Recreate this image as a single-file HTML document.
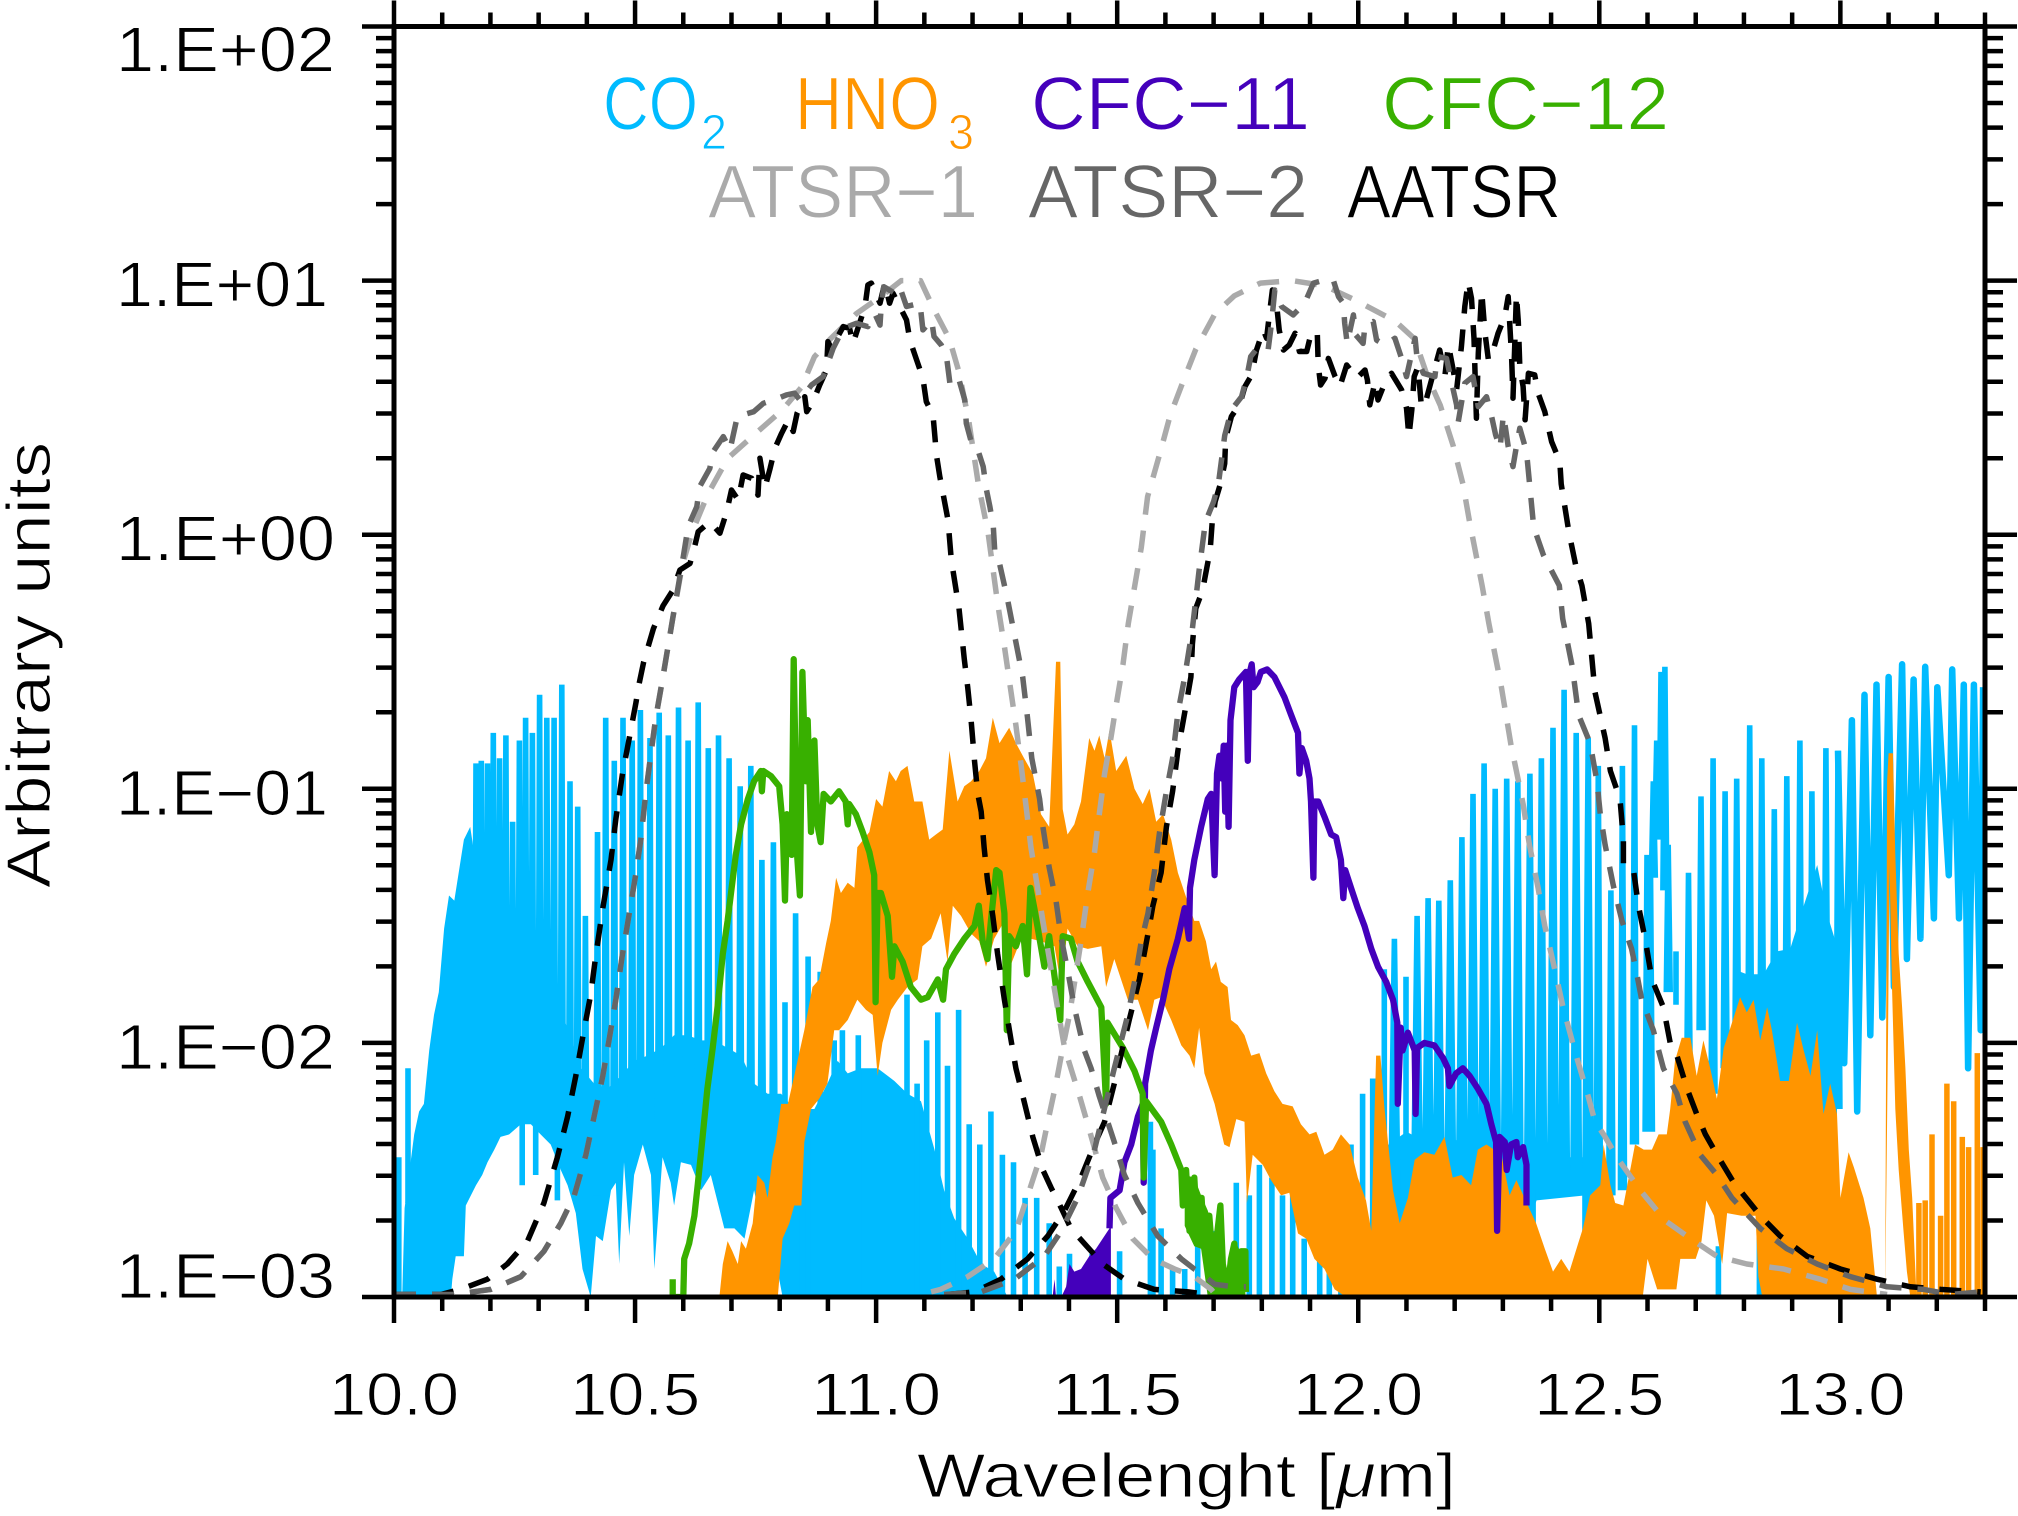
<!DOCTYPE html>
<html lang="en">
<head>
<meta charset="utf-8">
<title>Spectra and ATSR filter responses</title>
<style>
html,body{margin:0;padding:0;background:#fff;}
svg{display:block;}
text{font-family:"Liberation Sans",sans-serif;stroke:#fff;stroke-width:1;}
</style>
</head>
<body>
<svg id="chart" xmlns="http://www.w3.org/2000/svg" width="2018" height="1516" viewBox="0 0 2018 1516">
  <rect x="0" y="0" width="2018" height="1516" fill="#fff"/>
  <defs><clipPath id="plot-clip"><rect x="394" y="26.5" width="1591" height="1270.5"/></clipPath></defs>
  <g id="series" clip-path="url(#plot-clip)"></g>
  <g id="axes"></g>
  <g font-size="75">
    <text x="603" y="129.5" fill="#00BBFF" textLength="95" lengthAdjust="spacingAndGlyphs">CO</text>
    <text x="701" y="149" fill="#00BBFF" font-size="49" textLength="26" lengthAdjust="spacingAndGlyphs">2</text>
    <text x="795" y="129.5" fill="#FF9500" textLength="145" lengthAdjust="spacingAndGlyphs">HNO</text>
    <text x="948" y="149" fill="#FF9500" font-size="49" textLength="26" lengthAdjust="spacingAndGlyphs">3</text>
    <text x="1031" y="129.5" fill="#4400BB" textLength="279" lengthAdjust="spacingAndGlyphs">CFC−11</text>
    <text x="1382" y="129.5" fill="#38B000" textLength="287" lengthAdjust="spacingAndGlyphs">CFC−12</text>
    <text x="708" y="217.5" fill="#AAAAAA" textLength="270" lengthAdjust="spacingAndGlyphs">ATSR−1</text>
    <text x="1028" y="217.5" fill="#666666" textLength="280" lengthAdjust="spacingAndGlyphs">ATSR−2</text>
    <text x="1347" y="217.5" fill="#000000" textLength="214" lengthAdjust="spacingAndGlyphs">AATSR</text>
  </g>
  <text x="917" y="1497" font-size="62" fill="#000" textLength="539" lengthAdjust="spacingAndGlyphs">Wavelenght [<tspan font-style="italic">μ</tspan>m]</text>
  <text transform="translate(50,888) rotate(-90)" x="0" y="0" font-size="62" fill="#000" textLength="446" lengthAdjust="spacingAndGlyphs">Arbitrary units</text>
</svg>
<script>
/* Axis labels */
const xMajorTicks = [10, 10.5, 11, 11.5, 12, 12.5, 13];
const xTickLabels = ['10.0', '10.5', '11.0', '11.5', '12.0', '12.5', '13.0'];
const yDecadeExponents = [2, 1, 0, -1, -2, -3];
const yTickLabels = ['1.E+02', '1.E+01', '1.E+00', '1.E\u221201', '1.E\u221202', '1.E\u221203'];

/* All series values below are log10(arbitrary units); x is wavelength in um */

/* CO2 individual lines */
const co2LineWavelengths = [10.010,10.029,10.170,10.181,10.194,10.206,10.219,10.232,10.246,10.260,10.266,10.273,10.287,10.294,10.302,10.317,10.332,10.339,10.348,10.365,10.381,10.397,10.422,10.439,10.457,10.475,10.494,10.511,10.531,10.550,10.569,10.590,10.610,10.631,10.652,10.673,10.695,10.718,10.740,10.763,10.787,10.811,
10.833,10.859,10.884,10.913,10.930,10.963,11.064,11.085,11.105,11.128,11.148,11.171,11.193,11.215,11.238,11.262,11.285,11.309,11.333,11.359,11.380,11.401,11.448,11.505,11.569,11.574,11.591,11.615,11.640,
11.667,11.705,11.747,11.774,11.795,11.821,11.843,11.864,11.888,11.920,11.940,11.964,11.985,12.009,12.030,12.054,12.075,12.099,12.122,12.145,12.167,12.191,12.215,12.238,12.261,12.284,12.308,12.331,12.356,12.380,12.404,12.427,12.452,12.477,
12.498,12.524,12.548,12.573,12.599,12.606,12.612,12.619,12.628,12.636,12.643,12.659,12.685,12.711,12.736,12.747,12.761,12.785,12.812,12.832,12.837,12.863,12.889,12.916,12.941,12.970,12.995];
const co2LineTops = [-2.45,-2.10,-0.90,-0.89,-0.90,-0.78,-0.88,-0.79,-1.13,-0.81,-2.10,-0.72,-0.78,-2.10,-0.63,-0.72,-0.72,-2.10,-0.59,-0.97,-1.07,-1.50,-1.17,-0.72,-0.89,-0.72,-0.81,-0.69,-0.80,-0.70,-0.79,-0.68,-0.81,-0.66,-0.84,-0.79,-0.88,-0.99,-0.91,-1.28,-1.21,-1.84,
-1.49,-1.66,-1.72,-1.99,-1.95,-1.97,-1.81,-2.16,-1.99,-1.88,-2.09,-1.87,-2.32,-2.40,-2.27,-2.44,-2.47,-2.61,-2.61,-2.71,-2.88,-2.83,-2.83,-2.82,-2.31,-2.42,-2.73,-2.89,-2.89,
-2.78,-2.74,-2.55,-2.60,-2.48,-2.53,-2.60,-2.60,-2.77,-2.83,-2.90,-2.50,-2.40,-2.20,-2.14,-1.71,-1.59,-1.74,-1.50,-1.43,-1.44,-1.36,-1.19,-1.02,-0.90,-1.00,-0.96,-0.97,-0.94,-0.88,-0.76,-0.61,-0.78,-0.80,
-0.91,-1.40,-0.91,-0.75,-1.26,-1.26,-0.97,-0.81,-0.54,-0.52,-1.22,-1.64,-1.33,-1.03,-0.88,-2.80,-1.01,-0.96,-0.75,-2.68,-0.88,-1.08,-0.95,-0.81,-1.01,-0.84,-0.85];
const co2LineBottoms = [-3,-2.63,-2.2,-2.2,-2.2,-2.2,-2.2,-2.2,-2.2,-2.2,-2.56,-2.2,-2.2,-2.52,-2.2,-2.2,-2.2,-2.62,-2.2,-2.4,-2.5,-2.8,-2.6,-2.3,-2.3,-2.3,-2.3,-2.3,-2.3,-2.3,-2.3,-2.3,-2.3,-2.3,-2.3,-2.3,-2.3,-2.3,-2.3,-2.3,-2.3,-2.3,
-3,-3,-3,-3,-3,-3,-3,-3,-3,-3,-3,-3,-3,-3,-3,-3,-3,-3,-3,-3,-3,-3,-3,-3,-3,-3,-3,-3,-3,
-3,-3,-3,-3,-3,-3,-3,-3,-3,-3,-3,-3,-3,-3,-3,-3,-3,-3,-3,-3,-3,-3,-3,-3,-3,-3,-3,-3,-3,-2.58,-2.58,-2.58,-2.58,-3,
-2.60,-2.60,-2.58,-2.40,-2.35,-2.35,-1.35,-1.20,-1.20,-1.40,-1.80,-1.85,-2.26,-1.95,-2.20,-3,-2.10,-2.10,-2.10,-3,-2.10,-2.10,-2.10,-2.10,-2.10,-2.10,-2.26];

/* CO2 dense band, upper and lower envelopes */
const co2BandUpperWavelengths = [10.017,10.022,10.042,10.052,10.062,10.073,10.083,10.093,10.104,10.114,10.125,10.135,10.145,10.158,10.170,10.194,10.221,10.249,10.277,10.304,10.332,10.360,10.388,10.415,10.443,10.471,10.498,10.526,10.554,10.581,10.609,10.637,10.664,10.692,10.720,10.747,10.775,10.803,10.830,10.872,10.899,10.920,10.941,10.968,11.003,11.038,11.065,11.093,11.121,11.141,11.162,11.190,11.218,11.245,11.273];
const co2BandUpper = [-3,-2.65,-2.36,-2.27,-2.24,-2.03,-1.89,-1.80,-1.55,-1.42,-1.44,-1.32,-1.20,-1.15,-1.30,-1.39,-1.54,-1.62,-1.65,-1.71,-1.83,-1.94,-2.10,-2.16,-2.18,-2.13,-2.07,-2.05,-2.02,-1.97,-1.97,-1.99,-1.99,-2.02,-2.05,-2.16,-2.20,-2.20,-2.26,-2.26,-2.16,-2.07,-2.12,-2.10,-2.10,-2.15,-2.20,-2.23,-2.42,-2.58,-2.69,-2.77,-2.87,-2.90,-3];
const co2BandLowerWavelengths = [10.017,10.118,10.121,10.128,10.145,10.149,10.170,10.183,10.194,10.208,10.221,10.239,10.263,10.284,10.304,10.325,10.346,10.360,10.377,10.391,10.408,10.419,10.433,10.450,10.460,10.467,10.477,10.488,10.498,10.516,10.533,10.540,10.557,10.574,10.581,10.595,10.616,10.637,10.657,10.685,10.706,10.727,10.747,10.775,10.796,10.806,11.273];
const co2BandLower = [-3,-3,-2.93,-2.84,-2.84,-2.64,-2.56,-2.52,-2.47,-2.42,-2.37,-2.36,-2.32,-2.32,-2.36,-2.40,-2.50,-2.56,-2.67,-2.89,-3,-2.76,-2.78,-2.58,-2.55,-2.87,-2.47,-2.76,-2.52,-2.40,-2.52,-2.89,-2.45,-2.55,-2.64,-2.47,-2.48,-2.58,-2.52,-2.73,-2.73,-2.77,-2.58,-2.85,-2.90,-3,-3];

/* CO2 mid-band fill behind the 12-12.5 um comb */
const co2MidBandWavelengths = [12.048,12.100,12.150,12.200,12.250,12.300,12.370,12.471];
const co2MidBandUpper = [-2.42,-2.35,-2.40,-2.38,-2.42,-2.40,-2.45,-2.45];
const co2MidBandLower = [-3,-3,-3,-3,-3,-3,-2.62,-2.60];

/* CO2 band around 12.8-13.0 um */
const co2HighBandWavelengths = [12.779,12.806,12.841,12.868,12.896,12.924,12.952,12.972,12.993];
const co2HighBandUpper = [-1.71,-1.73,-1.73,-1.64,-1.63,-1.46,-1.30,-1.49,-1.62];
const co2HighBandLower = [-2.3,-2.3,-2.3,-2.3,-2.3,-2.3,-2.3,-2.3,-2.3];

/* CO2 zig-zag at long wavelengths */
const co2ZigzagWavelengths = [12.995,13.008,13.024,13.035,13.050,13.062,13.075,13.087,13.100,13.111,13.128,13.138,13.152,13.166,13.176,13.194,13.201,13.225,13.232,13.246,13.256,13.265,13.277,13.291,13.296];
const co2ZigzagValues = [-0.85,-2.08,-0.73,-2.27,-0.63,-1.97,-0.59,-1.90,-0.56,-1.78,-0.51,-1.67,-0.57,-1.59,-0.52,-1.51,-0.60,-1.34,-0.53,-1.51,-0.59,-2.10,-0.59,-1.95,-0.60];

/* HNO3 envelopes */
const hno3UpperWavelengths = [10.675,10.682,10.692,10.702,10.713,10.720,10.730,10.744,10.754,10.768,10.775,10.785,10.792,10.803,10.817,
10.830,10.851,10.868,10.882,10.896,10.906,10.917,10.927,10.941,10.955,10.961,10.986,11.000,11.013,11.027,11.041,11.051,11.065,11.079,11.096,11.110,11.124,11.138,11.152,11.169,11.183,11.197,11.214,11.228,11.242,11.256,11.276,11.290,11.307,11.325,11.342,11.359,11.373,11.382,11.387,11.397,11.411,11.425,11.442,11.453,11.463,11.474,11.484,11.498,11.519,11.536,11.553,11.567,11.581,11.595,11.612,11.626,11.640,
11.660,11.670,11.684,11.695,11.705,11.715,11.729,11.736,11.750,11.764,11.778,11.795,11.809,11.826,11.843,11.864,11.881,11.899,11.913,11.930,11.947,11.964,11.982,11.999,12.016,12.027,12.037,12.046,12.054,12.072,12.086,12.103,12.117,12.137,12.158,12.179,12.196,12.214,12.234,12.248,12.266,12.297,12.314,12.328,12.352,12.369,12.387,12.404,12.421,12.438,12.456,12.466,
12.481,12.502,12.509,12.523,12.533,12.550,12.564,12.574,12.592,12.609,12.623,12.640,12.647,12.657,12.671,12.689,12.702,12.716,12.730,12.744,12.758,12.772,12.792,12.806,12.820,12.834,12.848,12.858,12.875,12.893,12.910,12.924,12.938,12.952,12.965,12.979,12.993,13.000,13.017,13.028,13.048,13.062,13.076];
const hno3Upper = [-3,-2.87,-2.78,-2.82,-2.87,-2.78,-2.81,-2.71,-2.52,-2.55,-2.61,-2.45,-2.39,-2.24,-2.24,
-2.13,-1.95,-1.78,-1.75,-1.61,-1.52,-1.35,-1.41,-1.37,-1.39,-1.23,-1.17,-1.04,-1.07,-0.93,-0.97,-0.93,-0.91,-1.05,-1.05,-1.20,-1.18,-1.16,-0.85,-1.05,-0.99,-0.97,-0.93,-0.88,-0.72,-0.82,-0.76,-0.82,-0.88,-0.94,-1.10,-1.15,-0.50,-0.50,-1.08,-1.18,-1.14,-1.05,-0.80,-0.85,-0.79,-0.88,-0.77,-0.93,-0.87,-1.00,-1.06,-1.00,-1.13,-1.10,-1.20,-1.33,-1.41,
-1.52,-1.52,-1.60,-1.71,-1.68,-1.76,-1.78,-1.91,-1.93,-1.97,-2.05,-2.04,-2.12,-2.19,-2.24,-2.25,-2.32,-2.36,-2.35,-2.44,-2.42,-2.36,-2.40,-2.53,-2.62,-2.74,-2.05,-2.05,-2.25,-2.58,-2.71,-2.61,-2.46,-2.43,-2.44,-2.37,-2.53,-2.52,-2.56,-2.42,-2.40,-2.44,-2.60,-2.54,-2.64,-2.71,-2.81,-2.90,-2.85,-2.90,-2.79,-2.73,
-2.60,-2.56,-2.40,-2.56,-2.63,-2.64,-2.50,-2.40,-2.42,-2.42,-2.36,-2.36,-2.26,-2.07,-1.98,-1.98,-2.13,-1.99,-2.10,-2.22,-2.02,-1.94,-1.82,-1.88,-1.83,-1.99,-1.86,-1.95,-2.15,-2.15,-1.92,-2.03,-2.13,-1.95,-2.28,-2.16,-2.28,-2.61,-2.43,-2.49,-2.61,-2.73,-3];
const hno3LowerWavelengths = [10.675,10.796,10.806,10.820,10.830,10.845,10.851,10.865,10.882,10.899,10.913,10.923,10.941,10.961,10.979,10.993,11.003,11.013,11.031,11.045,11.065,11.086,11.096,11.114,11.134,11.148,11.159,11.176,11.197,11.214,11.228,11.245,11.266,11.280,11.301,11.321,11.342,11.370,11.384,11.397,11.418,11.439,11.467,11.477,11.494,11.522,11.543,11.564,11.577,11.591,11.612,11.633,11.650,
11.660,11.670,11.681,11.702,11.722,11.733,11.747,11.764,11.769,11.781,11.802,11.819,11.840,11.857,11.875,11.892,11.909,11.930,11.951,11.975,12.590,12.600,12.620,12.660,12.668,12.700,12.712,12.722,12.738,12.755,12.765,12.795,12.824,12.830,12.838,13.076];
const hno3Lower = [-3,-3,-2.77,-2.71,-2.64,-2.64,-2.39,-2.26,-2.22,-2.16,-1.95,-1.95,-1.91,-1.83,-1.87,-1.89,-2.13,-2.00,-1.87,-1.83,-1.78,-1.75,-1.62,-1.59,-1.49,-1.68,-1.46,-1.50,-1.57,-1.60,-1.70,-1.59,-1.52,-1.69,-1.59,-1.59,-1.60,-1.62,-1.78,-1.55,-1.62,-1.63,-1.62,-1.78,-1.67,-1.83,-1.83,-1.95,-1.83,-1.82,-1.91,-2.01,-2.05,
-2.10,-1.94,-2.12,-2.24,-2.40,-2.41,-2.30,-2.31,-2.63,-2.44,-2.48,-2.54,-2.60,-2.59,-2.75,-2.77,-2.85,-2.89,-2.97,-3,-3,-2.85,-2.97,-2.97,-2.85,-2.85,-2.78,-2.62,-2.68,-2.87,-2.67,-2.68,-2.68,-2.92,-3,-3];

/* HNO3 strong line near 13.1 um */
const hno3PeakUpperWavelengths = [13.093,13.097,13.100,13.109,13.114,13.121,13.128,13.135,13.142,13.149,13.158];
const hno3PeakUpper = [-3,-0.97,-0.86,-0.86,-1.26,-1.65,-1.86,-2.10,-2.42,-2.61,-3];
const hno3PeakLowerWavelengths = [13.093,13.099,13.102,13.107,13.114,13.121,13.131,13.138,13.145];
const hno3PeakLower = [-3,-1.94,-1.30,-1.78,-2.26,-2.50,-2.74,-2.90,-3];

/* HNO3 isolated spikes at the long-wavelength end */
const hno3SpikeWavelengths = [13.163,13.176,13.190,13.208,13.221,13.235,13.253,13.266,13.284,13.296];
const hno3SpikeTops = [-2.63,-2.62,-2.36,-2.68,-2.16,-2.23,-2.37,-2.41,-2.04,-2.41];

/* CFC-11 */
const cfc11FillWavelengths = [11.366,11.370,11.373,11.384,11.394,11.401,11.411,11.425,11.442,11.456,11.470,11.484,11.487];
const cfc11FillTops = [-3,-2.93,-3,-3,-2.96,-2.87,-2.90,-2.89,-2.84,-2.81,-2.77,-2.73,-2.61];
const cfc11Wavelengths = [11.484,11.486,11.505,11.515,11.529,11.543,11.553,11.555,11.558,11.570,11.581,11.595,11.608,11.626,11.640,11.649,11.651,11.660,
11.674,11.688,11.695,11.702,11.707,11.712,11.717,11.721,11.724,11.727,11.731,11.735,11.743,11.753,11.767,11.771,11.774,11.779,11.783,11.791,11.798,11.811,11.826,11.847,11.861,11.875,11.878,11.883,11.892,11.899,11.902,11.907,11.909,11.917,11.930,11.944,11.954,11.964,11.969,11.973,11.985,11.999,12.013,12.027,12.041,12.058,12.072,12.081,12.082,12.088,12.092,12.103,12.117,12.119,12.122,12.137,12.158,12.176,12.186,12.189,12.203,12.217,12.231,12.248,12.266,12.276,12.286,12.288,12.293,12.304,12.308,12.317,12.328,12.331,12.342,12.349,12.349];
const cfc11Values = [-2.73,-2.61,-2.58,-2.47,-2.40,-2.29,-2.24,-2.55,-2.16,-2.03,-1.94,-1.83,-1.71,-1.59,-1.47,-1.59,-1.39,-1.28,
-1.15,-1.04,-1.02,-1.34,-0.94,-0.87,-0.96,-0.83,-1.09,-0.83,-1.15,-0.73,-0.60,-0.57,-0.54,-0.89,-0.55,-0.51,-0.60,-0.58,-0.54,-0.53,-0.56,-0.64,-0.71,-0.78,-0.94,-0.84,-0.89,-0.96,-1.05,-1.35,-1.05,-1.05,-1.11,-1.18,-1.19,-1.28,-1.43,-1.32,-1.39,-1.47,-1.54,-1.63,-1.70,-1.76,-1.83,-1.92,-2.24,-1.94,-2.03,-1.96,-2.03,-2.28,-2.02,-2.00,-2.01,-2.06,-2.10,-2.17,-2.12,-2.10,-2.13,-2.18,-2.24,-2.32,-2.39,-2.74,-2.37,-2.39,-2.50,-2.40,-2.39,-2.45,-2.41,-2.48,-2.64];

/* CFC-12 */
const cfc12Wavelengths = [10.578,10.578,10.600,10.602,10.612,10.623,10.630,10.640,10.650,10.661,10.671,10.682,10.692,10.699,10.709,10.720,10.734,10.747,10.761,10.763,10.766,10.782,10.799,10.806,10.811,10.815,10.825,10.829,
10.836,10.842,10.847,10.854,10.858,10.865,10.872,10.878,10.885,10.891,10.906,10.923,10.937,10.941,10.944,10.958,10.972,10.986,10.996,10.999,11.003,11.010,11.024,11.033,11.038,11.055,11.072,11.093,11.107,11.128,11.139,11.145,11.162,11.183,11.204,11.213,11.221,11.231,11.238,11.249,11.256,11.266,11.271,11.276,11.290,11.304,11.313,11.320,11.328,11.349,11.359,11.382,11.387,11.404,11.418,11.439,11.467,11.477,11.480,11.512,11.536,11.553,11.555,11.560,11.591,11.612,11.633,11.636,11.643,11.650,
11.660,11.666,11.675,11.681,11.691,11.698,11.708,11.714,11.719,11.729,11.736,11.743,11.750,11.757,11.766,11.767];
const cfc12Values = [-2.93,-3,-3,-2.85,-2.79,-2.68,-2.56,-2.37,-2.18,-2.02,-1.86,-1.65,-1.52,-1.41,-1.26,-1.14,-1.04,-0.97,-0.93,-1.01,-0.93,-0.95,-0.99,-1.14,-1.44,-1.10,-1.26,-0.49,
-1.26,-1.42,-0.54,-0.97,-0.73,-1.17,-0.81,-1.14,-1.21,-1.02,-1.05,-1.01,-1.05,-1.14,-1.06,-1.10,-1.17,-1.25,-1.34,-1.84,-1.41,-1.41,-1.50,-1.74,-1.62,-1.68,-1.78,-1.83,-1.82,-1.75,-1.83,-1.71,-1.65,-1.59,-1.54,-1.46,-1.60,-1.67,-1.52,-1.32,-1.33,-1.49,-1.95,-1.58,-1.62,-1.54,-1.73,-1.39,-1.47,-1.70,-1.58,-1.91,-1.58,-1.59,-1.68,-1.76,-1.86,-2.24,-1.92,-2.02,-2.11,-2.20,-2.53,-2.23,-2.31,-2.40,-2.50,-2.64,-2.50,-2.74,
-2.53,-2.74,-2.61,-2.81,-2.68,-2.85,-2.74,-2.64,-2.87,-2.97,-2.85,-2.79,-2.97,-2.82,-2.82,-2.98];
const cfc12TailWavelengths = [11.640,11.660,11.674,11.688,11.701,11.712,11.722,11.729,11.740,11.747,11.755,11.766];
const cfc12TailTops = [-2.52,-2.53,-2.60,-2.66,-2.75,-2.64,-2.89,-2.96,-2.79,-2.79,-2.82,-2.82];
const cfc12TailBottoms = [-2.72,-2.80,-2.81,-3,-3,-3,-3,-3,-3,-3,-3,-3];

/* ATSR-1 dashed filter curves */
const atsr1Band1Wavelengths = [10.000,10.069,10.125,10.201,10.263,10.311,10.346,10.374,10.398,10.415,10.433,10.446,10.460,10.474,10.488,10.502,10.512,10.522,10.533,10.543,10.557,10.564,10.578,10.598,10.618,10.651,10.692,10.745,10.805,10.845,10.872,10.905,10.959,11.012,11.052,11.092,11.119,11.152,11.172,11.192,11.212,11.232,11.252,11.266,11.276,11.290,11.301,11.311,11.321,11.335,11.346,11.363,11.377,11.391,11.404,11.422,11.442,11.470,11.498,11.532,11.574,11.619,11.660,11.695,11.708];
const atsr1Band1Values = [-2.99,-2.99,-2.99,-2.97,-2.92,-2.82,-2.71,-2.60,-2.44,-2.29,-2.13,-1.99,-1.83,-1.65,-1.49,-1.33,-1.20,-1.02,-0.86,-0.72,-0.57,-0.49,-0.33,-0.12,0.01,0.16,0.30,0.39,0.49,0.58,0.70,0.77,0.87,0.94,1.00,1.00,0.89,0.77,0.64,0.45,0.20,0.01,-0.27,-0.44,-0.57,-0.75,-0.91,-1.07,-1.23,-1.39,-1.52,-1.71,-1.87,-2.02,-2.10,-2.21,-2.34,-2.53,-2.65,-2.77,-2.85,-2.89,-2.92,-2.97,-3];
const atsr1Band2Wavelengths = [11.114,11.134,11.190,11.245,11.290,11.318,11.342,11.356,11.373,11.387,11.401,11.425,11.439,11.453,11.463,11.474,11.487,11.498,11.512,11.523,11.550,11.563,11.590,11.610,11.636,11.663,11.703,11.743,11.797,11.863,11.930,11.997,12.077,12.117,12.144,12.170,12.197,12.217,12.231,12.257,12.271,12.297,12.317,12.328,12.342,12.355,12.373,12.387,12.404,12.425,12.449,12.477,12.491,12.509,12.540,12.585,12.637,12.689,12.744,12.806,12.882,12.958,13.021,13.097];
const atsr1Band2Values = [-2.98,-2.97,-2.92,-2.85,-2.74,-2.58,-2.44,-2.31,-2.16,-2.02,-1.89,-1.60,-1.41,-1.25,-1.10,-0.94,-0.80,-0.67,-0.51,-0.35,-0.05,0.15,0.33,0.47,0.60,0.73,0.87,0.94,0.99,1.00,0.98,0.92,0.84,0.77,0.62,0.51,0.35,0.20,0.05,-0.20,-0.35,-0.60,-0.83,-0.93,-1.06,-1.22,-1.39,-1.54,-1.68,-1.86,-2.03,-2.21,-2.31,-2.36,-2.46,-2.58,-2.70,-2.77,-2.84,-2.87,-2.89,-2.93,-2.97,-2.99];

/* ATSR-2 dashed filter curves */
const atsr2Band1Wavelengths = [10.000,10.069,10.125,10.201,10.263,10.311,10.346,10.374,10.398,10.415,10.433,10.446,10.460,10.474,10.488,10.502,10.512,10.522,10.533,10.543,10.557,10.564,10.578,
10.600,10.610,10.628,10.634,10.655,10.662,10.683,10.697,10.712,10.746,10.766,10.797,10.814,10.831,10.842,10.866,10.890,10.911,10.932,10.959,10.983,10.997,11.008,11.011,11.016,11.039,11.049,11.063,11.091,11.097,11.115,11.120,11.135,11.146,11.153,11.170,11.184,11.187,11.198,11.211,11.222,11.229,11.236,11.243,11.246,11.256,
11.272,11.304,11.314,11.323,11.339,11.346,11.359,11.373,11.384,11.397,11.411,11.432,11.446,11.463,11.494,11.515,11.543,11.584,11.633,11.660,11.670,11.702,11.743,11.767];
const atsr2Band1Values = [-2.99,-2.99,-2.99,-2.97,-2.92,-2.82,-2.71,-2.60,-2.44,-2.29,-2.13,-1.99,-1.83,-1.65,-1.49,-1.33,-1.20,-1.02,-0.86,-0.72,-0.57,-0.49,-0.33,
-0.086,0.032,0.110,0.189,0.261,0.327,0.386,0.334,0.465,0.484,0.517,0.537,0.550,0.557,0.530,0.589,0.622,0.734,0.812,0.832,0.819,0.871,0.825,0.911,0.976,0.950,0.976,0.898,0.911,0.806,0.845,0.780,0.747,0.701,0.596,0.622,0.530,0.438,0.360,0.334,0.268,0.176,0.110,0.032,-0.060,-0.113,
-0.25,-0.56,-0.72,-0.88,-1.04,-1.15,-1.31,-1.44,-1.59,-1.71,-1.86,-2.03,-2.10,-2.21,-2.39,-2.52,-2.63,-2.76,-2.85,-2.89,-2.90,-2.95,-2.96,-2.96];
const atsr2Band2Wavelengths = [11.141,11.218,11.287,11.349,11.384,11.418,11.453,11.494,11.522,11.536,11.550,11.564,11.577,11.588,11.602,11.615,11.626,11.640,11.656,11.670,11.683,11.700,11.710,11.723,
11.737,11.758,11.769,11.777,11.793,11.813,11.820,11.827,11.841,11.865,11.889,11.907,11.931,11.948,11.959,11.969,11.972,11.977,11.990,11.995,12.010,12.014,12.031,12.038,12.055,12.076,12.090,12.100,12.118,12.122,12.135,12.159,12.164,12.183,12.194,12.204,12.207,12.221,12.238,12.249,12.266,12.276,12.285,12.294,12.301,12.305,12.311,12.321,12.328,12.335,12.349,
12.364,12.384,12.417,12.424,12.444,12.457,12.481,12.495,12.502,12.512,12.529,12.547,12.567,12.578,12.588,12.612,12.633,12.661,12.678,12.709,12.744,12.775,12.834,12.889,12.952,13.021,13.097,13.173,13.228,13.291];
const atsr2Band2Values = [-2.99,-2.98,-2.93,-2.84,-2.74,-2.61,-2.42,-2.10,-1.89,-1.76,-1.60,-1.49,-1.33,-1.17,-1.01,-0.88,-0.70,-0.56,-0.37,-0.14,0.05,0.13,0.20,0.39,
0.491,0.543,0.622,0.701,0.740,0.727,0.832,0.963,0.898,0.865,0.911,0.990,1.003,1.003,0.937,0.911,0.832,0.753,0.865,0.786,0.753,0.825,0.839,0.766,0.747,0.773,0.694,0.622,0.773,0.694,0.635,0.622,0.701,0.694,0.596,0.511,0.438,0.596,0.622,0.504,0.543,0.471,0.393,0.340,0.471,0.425,0.347,0.268,0.347,0.419,0.327,
0.03,-0.08,-0.20,-0.33,-0.52,-0.71,-0.82,-0.97,-1.10,-1.22,-1.38,-1.52,-1.63,-1.73,-1.83,-1.95,-2.10,-2.20,-2.31,-2.44,-2.52,-2.61,-2.73,-2.81,-2.87,-2.92,-2.96,-2.97,-2.99,-2.98];

/* AATSR dashed filter curves */
const aatsrBand1Wavelengths = [10.000,10.042,10.097,10.138,10.194,10.235,10.277,10.311,10.339,10.360,10.377,10.394,10.408,10.419,10.433,10.450,10.460,10.474,10.488,10.502,10.507,10.518,10.538,10.558,10.578,
10.593,10.614,10.621,10.631,10.655,10.676,10.690,10.700,10.714,10.724,10.742,10.755,10.759,10.769,10.780,10.790,10.804,10.818,10.828,10.836,10.852,10.856,10.869,10.883,10.897,10.900,10.907,10.932,10.945,10.952,10.977,10.983,10.990,11.008,11.018,11.028,11.035,11.049,11.063,11.070,11.084,11.097,11.104,11.118,11.122,11.125,11.132,11.140,11.149,11.156,
11.172,11.183,11.190,11.197,11.204,11.211,11.218,11.224,11.231,11.242,11.252,11.266,11.280,11.290,11.307,11.325,11.346,11.363,11.384,11.404,11.432,11.470,11.515,11.577,11.647,11.690];
const aatsrBand1Values = [-2.99,-2.99,-2.99,-2.97,-2.93,-2.87,-2.78,-2.63,-2.45,-2.29,-2.13,-1.95,-1.81,-1.65,-1.47,-1.28,-1.12,-0.94,-0.80,-0.66,-0.60,-0.50,-0.37,-0.28,-0.22,
-0.139,-0.113,-0.067,0.012,0.051,0.006,0.091,0.176,0.137,0.235,0.222,0.156,0.301,0.183,0.261,0.340,0.399,0.452,0.406,0.478,0.543,0.484,0.524,0.589,0.648,0.760,0.734,0.819,0.812,0.753,0.898,0.983,0.990,0.911,0.990,0.911,0.950,0.898,0.845,0.766,0.688,0.616,0.524,0.471,0.386,0.314,0.229,0.150,0.058,-0.099,
-0.29,-0.49,-0.60,-0.73,-0.89,-1.02,-1.09,-1.23,-1.36,-1.50,-1.65,-1.83,-1.99,-2.10,-2.23,-2.37,-2.50,-2.57,-2.65,-2.73,-2.79,-2.87,-2.93,-2.97,-2.98,-2.99];
const aatsrBand2Wavelengths = [11.148,11.204,11.259,11.314,11.356,11.391,11.425,11.453,11.474,11.494,11.525,11.546,11.564,11.574,11.591,11.602,11.615,11.626,11.640,11.653,11.656,11.663,11.677,11.693,11.697,11.703,11.714,11.723,11.725,
11.737,11.755,11.765,11.779,11.789,11.803,11.810,11.816,11.822,11.831,11.836,11.845,11.857,11.869,11.878,11.893,11.903,11.915,11.917,11.922,11.931,11.938,11.952,11.962,11.976,11.997,12.014,12.019,12.024,12.035,12.041,12.052,12.069,12.090,12.100,12.105,12.111,12.116,12.124,12.131,12.138,12.152,12.169,12.180,12.187,12.197,12.204,12.214,12.221,12.228,12.235,12.240,12.245,12.249,12.256,12.263,12.270,12.280,12.290,12.304,12.311,12.318,12.321,12.328,12.332,12.335,12.342,12.346,12.353,12.366,12.373,12.387,12.401,12.418,
12.421,12.437,12.451,12.464,12.478,12.491,12.512,12.523,12.543,12.550,12.550,12.571,12.581,12.595,12.609,12.633,12.647,12.661,12.682,12.702,12.720,12.747,12.779,12.834,12.875,12.931,13.000,13.076,13.145,13.208,13.291];
const aatsrBand2Values = [-2.99,-2.98,-2.93,-2.85,-2.76,-2.66,-2.53,-2.40,-2.31,-2.16,-1.91,-1.75,-1.57,-1.46,-1.33,-1.15,-1.01,-0.85,-0.70,-0.56,-0.43,-0.29,-0.22,-0.06,0.05,0.13,0.20,0.28,0.38,
0.465,0.517,0.583,0.629,0.727,0.806,0.773,0.871,0.963,0.898,0.806,0.727,0.747,0.793,0.721,0.721,0.799,0.793,0.668,0.589,0.616,0.694,0.622,0.583,0.668,0.616,0.648,0.609,0.511,0.602,0.530,0.583,0.635,0.570,0.498,0.386,0.491,0.622,0.661,0.504,0.511,0.609,0.727,0.629,0.747,0.648,0.570,0.740,0.898,0.996,0.930,0.773,0.458,0.714,0.957,0.793,0.688,0.727,0.793,0.858,0.937,0.701,0.537,0.944,0.839,0.661,0.583,0.452,0.635,0.629,0.557,0.484,0.366,0.288,
0.20,0.01,-0.12,-0.20,-0.35,-0.62,-0.80,-0.93,-1.04,-1.20,-1.30,-1.32,-1.46,-1.59,-1.75,-1.86,-2.00,-2.05,-2.18,-2.28,-2.36,-2.45,-2.55,-2.68,-2.76,-2.84,-2.89,-2.93,-2.96,-2.97,-2.98];

/* Scales */
const PLOT_LEFT = 394, PLOT_RIGHT = 1985, PLOT_TOP = 26.5, PLOT_BOTTOM = 1297;
const X_MIN = 10, X_MAX = 13.3, LOG_MAX = 2, LOG_MIN = -3;
function xScale(w) { return PLOT_LEFT + (w - X_MIN) * (PLOT_RIGHT - PLOT_LEFT) / (X_MAX - X_MIN); }
function yScale(v) { return PLOT_TOP + (LOG_MAX - v) * (PLOT_BOTTOM - PLOT_TOP) / (LOG_MAX - LOG_MIN); }

const NS = 'http://www.w3.org/2000/svg';
const seriesLayer = document.getElementById('series');
const axesLayer = document.getElementById('axes');

function makeEl(tag, parent) {
  const el = document.createElementNS(NS, tag);
  parent.appendChild(el);
  return el;
}
function linePath(xs, ys) {
  let d = '';
  for (let i = 0; i < xs.length; i++) {
    d += (i ? 'L' : 'M') + xScale(xs[i]).toFixed(1) + ' ' + yScale(ys[i]).toFixed(1);
  }
  return d;
}
function areaPath(upX, upY, loX, loY) {
  let d = linePath(upX, upY);
  for (let i = loX.length - 1; i >= 0; i--) {
    d += 'L' + xScale(loX[i]).toFixed(1) + ' ' + yScale(loY[i]).toFixed(1);
  }
  return d + 'Z';
}
function barsPath(xs, tops, bottoms) {
  let d = '';
  for (let i = 0; i < xs.length; i++) {
    const px = xScale(xs[i]).toFixed(1);
    d += 'M' + px + ' ' + yScale(tops[i]).toFixed(1) + 'L' + px + ' ' + yScale(bottoms[i]).toFixed(1);
  }
  return d;
}
/* Strong absorption lines broaden toward their wings, so they are drawn as wedges */
function lineShapesPath(xs, tops, bottoms) {
  let d = '';
  for (let i = 0; i < xs.length; i++) {
    const px = xScale(xs[i]);
    const t = yScale(tops[i]);
    const b = yScale(bottoms[i]);
    const halfTop = 2.8;
    let halfEnd = halfTop;
    if (tops[i] > -1.6) {
      halfEnd = xs[i] > 12.48 ? 4.75 : (xs[i] > 12 ? 6 : 4.25);
    }
    const w = yScale(Math.max(bottoms[i], -2.5));
    d += 'M' + (px - halfTop).toFixed(1) + ' ' + t.toFixed(1) +
         'L' + (px + halfTop).toFixed(1) + ' ' + t.toFixed(1) +
         'L' + (px + halfEnd).toFixed(1) + ' ' + w.toFixed(1) +
         'L' + (px + halfEnd).toFixed(1) + ' ' + b.toFixed(1) +
         'L' + (px - halfEnd).toFixed(1) + ' ' + b.toFixed(1) +
         'L' + (px - halfEnd).toFixed(1) + ' ' + w.toFixed(1) + 'Z';
  }
  return d;
}
function drawArea(name, color, d) {
  const el = makeEl('path', seriesLayer);
  
  
  el.setAttribute('d', d);
  el.setAttribute('fill', color);
  return el;
}
function drawStroke(name, color, width, d, dash) {
  const el = makeEl('path', seriesLayer);
  
  
  el.setAttribute('d', d);
  el.setAttribute('fill', 'none');
  el.setAttribute('stroke', color);
  el.setAttribute('stroke-width', width);
  el.setAttribute('stroke-linejoin', 'round');
  if (dash) el.setAttribute('stroke-dasharray', dash);
  return el;
}

/* Series, back to front */
const CO2 = '#00BBFF', HNO3 = '#FF9500', CFC11 = '#4400BB', CFC12 = '#38B000';
drawArea('co2-band', CO2, areaPath(co2BandUpperWavelengths, co2BandUpper, co2BandLowerWavelengths, co2BandLower));
drawArea('co2-mid-band', CO2, areaPath(co2MidBandWavelengths, co2MidBandUpper, co2MidBandWavelengths, co2MidBandLower));
drawArea('co2-high-band', CO2, areaPath(co2HighBandWavelengths, co2HighBandUpper, co2HighBandWavelengths, co2HighBandLower));
drawArea('co2-lines', CO2, lineShapesPath(co2LineWavelengths, co2LineTops, co2LineBottoms));
drawStroke('co2-zigzag', CO2, 6.5, linePath(co2ZigzagWavelengths, co2ZigzagValues));

const hno3Bottoms = hno3SpikeTops.map(function () { return LOG_MIN; });
drawArea('hno3-band', HNO3, areaPath(hno3UpperWavelengths, hno3Upper, hno3LowerWavelengths, hno3Lower));
drawArea('hno3-peak', HNO3, areaPath(hno3PeakUpperWavelengths, hno3PeakUpper, hno3PeakLowerWavelengths, hno3PeakLower));
drawStroke('hno3-spikes', HNO3, 5.5, barsPath(hno3SpikeWavelengths, hno3SpikeTops, hno3Bottoms));

drawArea('cfc-11-fill', CFC11, linePath(cfc11FillWavelengths, cfc11FillTops) + 'L' + xScale(cfc11FillWavelengths[cfc11FillWavelengths.length - 1]).toFixed(1) + ' ' + yScale(LOG_MIN).toFixed(1) + 'Z');
drawStroke('cfc-11-line', CFC11, 6.3, linePath(cfc11Wavelengths, cfc11Values));

drawArea('cfc-12-tail', CFC12, areaPath(cfc12TailWavelengths, cfc12TailTops, cfc12TailWavelengths, cfc12TailBottoms));
drawStroke('cfc-12-line', CFC12, 6.3, linePath(cfc12Wavelengths, cfc12Values));

const DASH = '22 16';
drawStroke('atsr-1-band-1', '#AAAAAA', 5.5, linePath(atsr1Band1Wavelengths, atsr1Band1Values), DASH);
drawStroke('atsr-1-band-2', '#AAAAAA', 5.5, linePath(atsr1Band2Wavelengths, atsr1Band2Values), DASH);
drawStroke('aatsr-band-1', '#000000', 5.5, linePath(aatsrBand1Wavelengths, aatsrBand1Values), DASH);
drawStroke('aatsr-band-2', '#000000', 5.5, linePath(aatsrBand2Wavelengths, aatsrBand2Values), DASH);
drawStroke('atsr-2-band-1', '#666666', 5.5, linePath(atsr2Band1Wavelengths, atsr2Band1Values), DASH);
drawStroke('atsr-2-band-2', '#666666', 5.5, linePath(atsr2Band2Wavelengths, atsr2Band2Values), DASH);

/* Axes */
function axisLine(name, x1, y1, x2, y2, width) {
  const el = makeEl('line', axesLayer);
  
  
  el.setAttribute('x1', x1);
  el.setAttribute('y1', y1);
  el.setAttribute('x2', x2);
  el.setAttribute('y2', y2);
  el.setAttribute('stroke', '#000');
  el.setAttribute('stroke-width', width);
  return el;
}
axisLine('x-axis-bottom', PLOT_LEFT - 2.5, PLOT_BOTTOM, PLOT_RIGHT + 2.5, PLOT_BOTTOM, 5);
axisLine('x-axis-top', PLOT_LEFT - 2.5, PLOT_TOP, PLOT_RIGHT + 2.5, PLOT_TOP, 5);
axisLine('y-axis-left', PLOT_LEFT, PLOT_TOP, PLOT_LEFT, PLOT_BOTTOM, 5);
axisLine('y-axis-right', PLOT_RIGHT, PLOT_TOP, PLOT_RIGHT, PLOT_BOTTOM, 5);

const X_MAJOR_LEN = 26, X_MINOR_LEN = 14, Y_MAJOR_LEN = 32, Y_MINOR_LEN = 18;
for (let k = 0; k <= 33; k++) {
  const w = X_MIN + k * 0.1;
  const px = xScale(w);
  const major = k % 5 === 0;
  const len = major ? X_MAJOR_LEN : X_MINOR_LEN;
  axisLine('x-tick-bottom', px, PLOT_BOTTOM, px, PLOT_BOTTOM + len, 4.5);
  axisLine('x-tick-top', px, PLOT_TOP, px, PLOT_TOP - len, 4.5);
}
yDecadeExponents.forEach(function (e, i) {
  const py = yScale(e);
  axisLine('y-tick-left', PLOT_LEFT, py, PLOT_LEFT - Y_MAJOR_LEN, py, 4.5);
  axisLine('y-tick-right', PLOT_RIGHT, py, PLOT_RIGHT + Y_MAJOR_LEN, py, 4.5);
  if (i < yDecadeExponents.length - 1) {
    for (let m = 2; m <= 9; m++) {
      const my = yScale(e - 1 + Math.log10(m));
      axisLine('y-minor-tick-left', PLOT_LEFT, my, PLOT_LEFT - Y_MINOR_LEN, my, 4.5);
      axisLine('y-minor-tick-right', PLOT_RIGHT, my, PLOT_RIGHT + Y_MINOR_LEN, my, 4.5);
    }
  }
});

xMajorTicks.forEach(function (w, i) {
  const t = makeEl('text', axesLayer);
  
  
  t.setAttribute('x', xScale(w).toFixed(1) - 65);
  t.setAttribute('y', 1415);
  t.setAttribute('font-size', 60);
  t.setAttribute('textLength', 130);
  t.setAttribute('lengthAdjust', 'spacingAndGlyphs');
  t.textContent = xTickLabels[i];
});
yDecadeExponents.forEach(function (e, i) {
  const t = makeEl('text', axesLayer);
  
  
  const baseline = Math.min(Math.max(yScale(e) + 26, 71.5), 1298);
  const label = yTickLabels[i];
  t.setAttribute('x', 116);
  t.setAttribute('y', baseline);
  t.setAttribute('font-size', 64);
  t.setAttribute('textLength', label.slice(-1) === '1' ? 212 : 219);
  t.setAttribute('lengthAdjust', 'spacingAndGlyphs');
  t.textContent = label;
});
</script>
</body>
</html>
